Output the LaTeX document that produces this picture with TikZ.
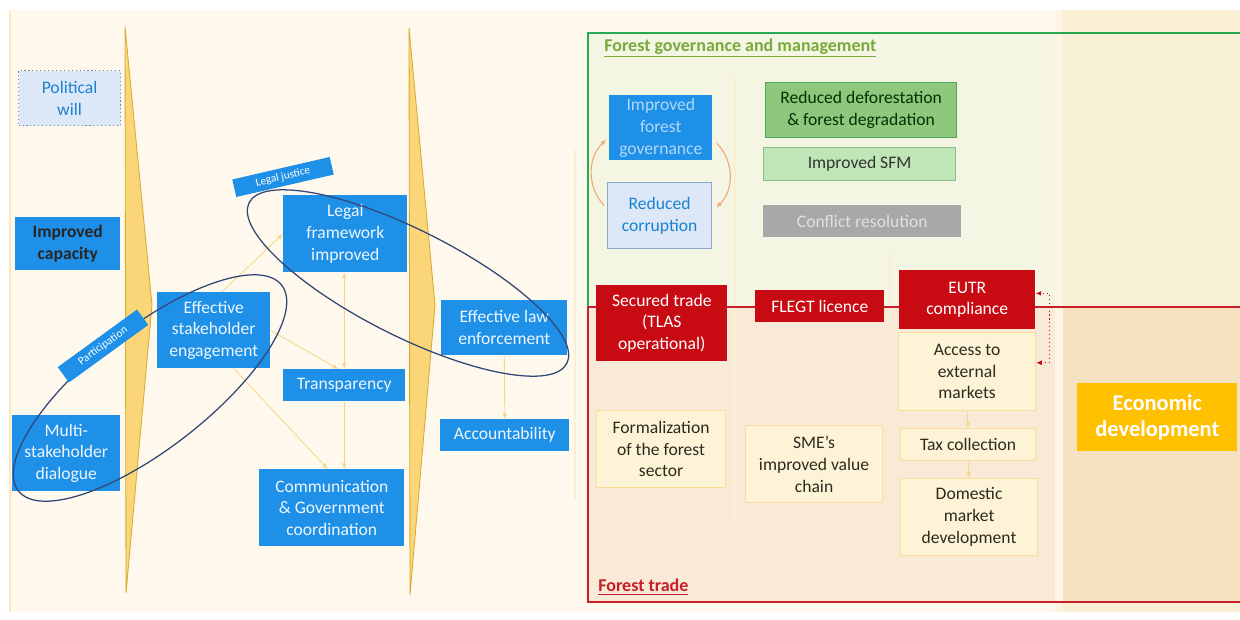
\documentclass[tikz,border=0pt]{standalone}
\usepackage{fontspec}
\setmainfont{Carlito}
\usetikzlibrary{arrows.meta,positioning}
\definecolor{tocblue}{RGB}{30,144,232}
\definecolor{paleblue}{RGB}{220,232,247}
\definecolor{paleedge}{RGB}{140,168,205}
\definecolor{tocred}{RGB}{200,10,18}
\definecolor{creamfill}{RGB}{253,243,214}
\definecolor{creamedge}{RGB}{248,222,150}
\definecolor{darktext}{RGB}{45,42,30}
\definecolor{leafgreen}{RGB}{141,200,125}
\definecolor{leafedge}{RGB}{80,170,85}
\definecolor{mintgreen}{RGB}{192,229,182}
\definecolor{stonegray}{RGB}{168,168,168}
\definecolor{gold}{RGB}{255,192,0}
\definecolor{creambg}{RGB}{254,249,236}
\definecolor{govbg}{RGB}{245,245,227}
\definecolor{tradebg}{RGB}{248,234,214}
\definecolor{econbg}{RGB}{250,238,213}
\definecolor{econtop}{RGB}{246,240,215}
\definecolor{econlow}{RGB}{246,226,193}
\definecolor{bandbg}{RGB}{253,246,226}
\definecolor{govline}{RGB}{40,170,80}
\definecolor{govtext}{RGB}{120,170,60}
\definecolor{tradeline}{RGB}{200,30,40}
\definecolor{halo}{RGB}{50,70,120}
\definecolor{faint}{RGB}{246,214,140}
\definecolor{chevron}{RGB}{250,214,120}
\definecolor{chevedge}{RGB}{215,170,50}
\definecolor{loop}{RGB}{240,170,120}
\newcommand{\pxu}{0.025cm}
\tikzset{
  boxbase/.style={
    anchor=north west, align=center, inner sep=2pt,
    font=\fontsize{12.5}{15.5}\selectfont
  },
  bluebox/.style={boxbase, fill=tocblue, text=white!92!tocblue},
  paleblue/.style={boxbase, fill=paleblue, draw=paleedge, line width=0.8pt, text=tocblue!90!black},
  redbox/.style={boxbase, fill=tocred, text=white},
  creambox/.style={boxbase, fill=creamfill, draw=creamedge, line width=0.8pt, text=darktext},
  leafbox/.style={boxbase, fill=leafgreen, draw=leafedge, line width=0.8pt, text=black!80!green},
  mintbox/.style={boxbase, fill=mintgreen, draw=leafedge!70, line width=0.8pt, text=black!80},
  graybox/.style={boxbase, fill=stonegray, text=black!12},
  goldbox/.style={boxbase, fill=gold, text=white, font=\fontsize{16}{19}\selectfont\bfseries},
  tag/.style={fill=tocblue, text=white, inner sep=1pt, font=\fontsize{8}{9}\selectfont},
  heading/.style={anchor=west, inner sep=0pt, font=\fontsize{12.8}{15}\selectfont\bfseries},
  halo/.style={draw=halo, line width=0.9pt},
  faintlink/.style={draw=faint, line width=0.6pt, -{Latex[length=4pt,width=3.5pt]}},
  loopback/.style={draw=loop, line width=0.8pt, -{Latex[length=4pt,width=3.5pt]}},
  eulink/.style={draw=tocred, dotted, line width=0.8pt,
    {Latex[length=4pt,width=3.5pt]}-{Latex[length=4pt,width=3.5pt]}},
  chev/.style={fill=chevron, draw=chevedge, line width=0.6pt}
}
\newcommand{\tocbox}[7]{%
  \node[#1, minimum width=#6*\pxu, minimum height=#7*\pxu] (#2) at (#4,#5) {#3};%
}
\begin{document}
\begin{tikzpicture}[x=0.025cm, y=-0.025cm]
    \useasboundingbox (0,0) rectangle (1240,619);
    \fill[white] (0,0) rectangle (1240,619);
    \fill[creambg] (10,10) rectangle (1240,612);
    \fill[govbg] (588,33) rectangle (1055,307);
    \fill[tradebg] (588,307) rectangle (1055,602);
    \fill[econbg] (1063,10) rectangle (1240,612);
    \fill[econtop] (1063,33) rectangle (1240,307);
    \fill[econlow] (1063,307) rectangle (1240,602);
    \fill[bandbg] (1055,10) rectangle (1063,612);
    \draw[faint!60, line width=1pt] (10,10) -- (10,612);
    \draw[faint!40, line width=1pt] (575,150) -- (575,500);
    \draw[faint!40, line width=1pt] (735,75) -- (735,520);
    \draw[faint!40, line width=1pt] (890,255) -- (890,570);
    \draw[govline, line width=1.8pt] (588,307) -- (588,33) -- (1240,33);
    \draw[tradeline, line width=1.8pt] (1240,307) -- (588,307) -- (588,602) -- (1240,602);
    \draw[chev] (125,27) -- (152,305) -- (126,593) -- cycle;
    \draw[chev] (409,28) -- (435,305) -- (410,595) -- cycle;
    \node[heading, text=govtext] (govtitle) at (604,48) {\underline{Forest governance and management}};
    \node[heading, text=tradeline] (tradetitle) at (598,587) {\underline{Forest trade}};
    \tocbox{paleblue, dotted, draw=paleedge!80!black}{polwill}{Political\\will}{18}{70}{102}{55}
    \tocbox{bluebox, text=black!85, font=\fontsize{12.5}{15.5}\selectfont\bfseries}{capacity}{Improved\\capacity}{15}{217}{105}{53}
    \tocbox{bluebox}{dialogue}{Multi-\\stakeholder\\dialogue}{12}{415}{108}{76}
    \tocbox{bluebox}{engage}{Effective\\stakeholder\\engagement}{157}{292}{113}{76}
    \tocbox{bluebox}{legalfw}{Legal\\framework\\improved}{283}{195}{124}{77}
    \tocbox{bluebox}{transp}{Transparency}{283}{369}{122}{32}
    \tocbox{bluebox}{commgov}{Communication\\\& Government\\coordination}{259}{469}{145}{77}
    \tocbox{bluebox}{lawenf}{Effective law\\enforcement}{441}{300}{126}{55}
    \tocbox{bluebox}{account}{Accountability}{440}{419}{129}{32}
    \tocbox{bluebox, text=tocblue!35!white}{forgov}{Improved\\forest\\governance}{609}{95}{103}{65}
    \tocbox{paleblue}{corrupt}{Reduced\\corruption}{607}{182}{104}{66}
    \tocbox{leafbox}{defor}{Reduced deforestation\\\& forest degradation}{765}{82}{191}{55}
    \tocbox{mintbox}{sfm}{Improved SFM}{763}{147}{192}{33}
    \tocbox{graybox}{conflict}{Conflict resolution}{763}{205}{198}{32}
    \tocbox{redbox}{tlas}{Secured trade\\(TLAS\\operational)}{596}{285}{131}{76}
    \tocbox{redbox}{flegt}{FLEGT licence}{755}{290}{129}{32}
    \tocbox{redbox}{eutr}{EUTR\\compliance}{899}{270}{136}{59}
    \tocbox{creambox}{access}{Access to\\external\\markets}{898}{332}{137}{78}
    \tocbox{creambox}{tax}{Tax collection}{900}{428}{135}{32}
    \tocbox{creambox}{domestic}{Domestic\\market\\development}{900}{478}{137}{77}
    \tocbox{creambox}{formal}{Formalization\\of the forest\\sector}{596}{410}{129}{77}
    \tocbox{creambox}{sme}{SME's\\improved value\\chain}{745}{425}{137}{77}
    \tocbox{goldbox}{econ}{Economic\\development}{1077}{383}{160}{68}
    \draw[faintlink] ([xshift=0.2cm]engage.north) -- (legalfw.west);
    \draw[faintlink] (engage.east) -- ([xshift=-0.15cm]transp.north);
    \draw[faintlink, {Latex[length=4pt,width=3.5pt]}-{Latex[length=4pt,width=3.5pt]}] (transp.north) -- (transp.north |- legalfw.south);
    \draw[faintlink] ([xshift=0.5cm]engage.south) -- ([xshift=-0.1cm]commgov.north);
    \draw[faintlink] (transp.south) -- (transp.south |- commgov.north);
    \draw[faintlink] (lawenf.south) -- (account.north);
    \draw[faintlink] (access.south) -- (tax.north);
    \draw[faintlink] (tax.south) -- (domestic.north);
    \draw[loopback] ([xshift=-2pt, yshift=0.25cm]corrupt.west) to[bend left=45] ([xshift=-2pt, yshift=-0.3cm]forgov.west);
    \draw[loopback] ([xshift=3pt, yshift=-0.39cm]forgov.east) to[bend left=45] ([xshift=3pt, yshift=0.2cm]corrupt.east);
    \draw[eulink] ([yshift=0.22cm]access.east) -- ++(13,0) |- ([yshift=0.16cm]eutr.east);
    \draw[halo, rotate around={38:(150,388)}] (150,388) ellipse [x radius=4.175cm, y radius=1.5cm];
    \draw[halo, rotate around={-26.8:(408,283)}] (408,283) ellipse [x radius=4.45cm, y radius=1.325cm];
    \node[tag, rotate=13, minimum width=100*\pxu, minimum height=18*\pxu] (justice) at (283,177) {Legal justice};
    \node[tag, rotate=36, minimum width=98*\pxu, minimum height=19*\pxu] (particip) at (103,346) {Participation};
\end{tikzpicture}
\end{document}
